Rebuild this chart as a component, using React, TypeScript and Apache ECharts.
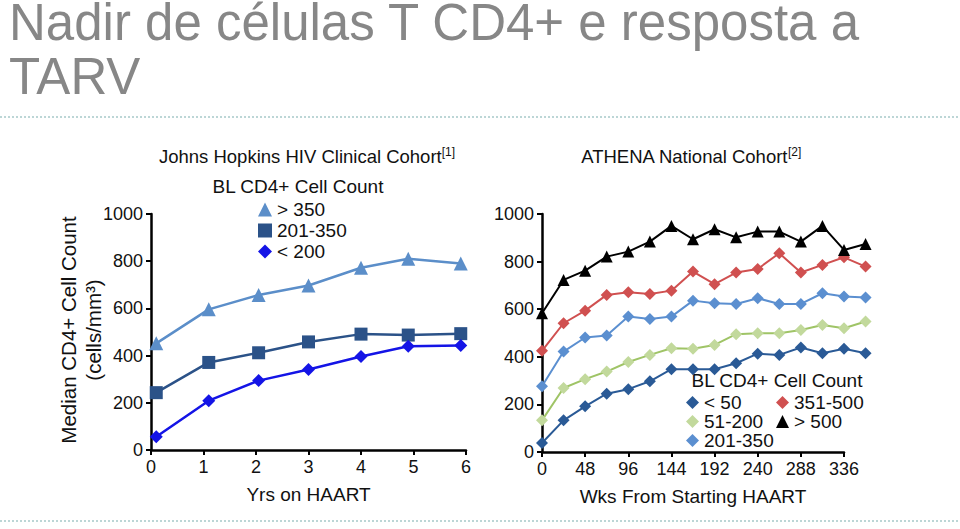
import React, { useEffect, useRef } from "react";
import * as echarts from "echarts";

const leftYears = [0.1, 1.1, 2.05, 3, 4, 4.9, 5.9];
const leftGt350 = [452, 596, 657, 697, 772, 810, 790];
const left201to350 = [243, 371, 412, 458, 491, 487, 493];
const leftLt200 = [56, 209, 294, 341, 396, 440, 443];

const rightWeeks = [0, 24, 48, 72, 96, 120, 144, 168, 192, 216, 240, 264, 288, 312, 336, 360];
const rightGt500 = [583, 723, 762, 821, 842, 884, 950, 894, 936, 902, 926, 926, 884, 950, 849, 874];
const right351to500 = [425, 541, 594, 660, 671, 664, 678, 758, 705, 754, 769, 835, 754, 786, 818, 779];
const right201to350 = [276, 422, 481, 490, 569, 559, 569, 636, 625, 622, 646, 622, 622, 667, 653, 649];
const right51to200 = [133, 269, 306, 338, 378, 408, 436, 434, 450, 495, 499, 499, 513, 534, 520, 548];
const rightLt50 = [38, 133, 192, 245, 264, 297, 348, 348, 348, 373, 413, 408, 439, 415, 434, 415];

const FONT = "Liberation Sans";

const zip = (xs: number[], ys: number[]) => xs.map((x, i) => [x, ys[i]]);

export default function App() {
  const ref = useRef<HTMLDivElement>(null);
  useEffect(() => {
    if (!ref.current) return;
    const chart = echarts.init(ref.current, undefined, { renderer: "svg" });
    const axisLine = { show: true, lineStyle: { color: "#000", width: 2.5 } };
    const axisTick = { show: true, length: 5, lineStyle: { color: "#000", width: 2 } };
    const axisLabel = { color: "#111", fontSize: 18, fontFamily: FONT, margin: 8, formatter: (v: number) => String(v) };
    const nameStyle = { color: "#111", fontSize: 19, fontFamily: FONT };
    const mkY = (gridIndex: number, show: boolean) => ({
      type: "value",
      gridIndex,
      show,
      min: 0,
      max: 1000,
      interval: 200,
      axisLine,
      axisTick,
      axisLabel,
      splitLine: { show: false },
    });
    const line = (
      name: string,
      data: number[][],
      color: string,
      symbol: string,
      size: number,
      xi: number,
      width: number,
      lineColor?: string
    ) => ({
      type: "line",
      name,
      xAxisIndex: xi,
      yAxisIndex: xi,
      data,
      symbol,
      symbolSize: size,
      lineStyle: { color: lineColor || color, width },
      itemStyle: { color },
    });
    const legendText = { color: "#111", fontSize: 19, fontFamily: FONT };
    const supRich = {
      s: { fontSize: 12, fontFamily: FONT, color: "#111", verticalAlign: "top", padding: [0, 0, 9, 0] },
    };
    const rightDataWidth = (302 * 360) / 336;
    chart.setOption({
      animation: false,
      textStyle: { fontFamily: FONT },
      grid: [
        { left: 151, width: 315, top: 214, height: 236 },
        { left: 542, width: rightDataWidth, top: 214, height: 238 },
        { left: 542, width: 302, top: 214, height: 238 },
      ],
      xAxis: [
        {
          type: "value",
          gridIndex: 0,
          min: 0,
          max: 6,
          interval: 1,
          axisLine,
          axisTick,
          axisLabel,
          splitLine: { show: false },
          name: "Yrs on HAART",
          nameLocation: "middle",
          nameGap: 35,
          nameTextStyle: nameStyle,
        },
        {
          type: "value",
          gridIndex: 1,
          show: false,
          min: 0,
          max: 360,
          splitLine: { show: false },
        },
        {
          type: "value",
          gridIndex: 2,
          min: 0,
          max: 336,
          interval: 48,
          axisLine,
          axisTick,
          axisLabel,
          splitLine: { show: false },
          name: "Wks From Starting HAART",
          nameLocation: "middle",
          nameGap: 35,
          nameTextStyle: nameStyle,
        },
      ],
      yAxis: [mkY(0, true), mkY(1, true), mkY(2, false)],
      title: [
        {
          text: "Johns Hopkins HIV Clinical Cohort{s|[1]}",
          left: 302,
          top: 141,
          textAlign: "center",
          textStyle: {
            color: "#111",
            fontSize: 18.5,
            fontWeight: "normal",
            fontFamily: FONT,
            rich: supRich,
          },
        },
        {
          text: "ATHENA National Cohort{s|[2]}",
          left: 686,
          top: 141,
          textAlign: "center",
          textStyle: {
            color: "#111",
            fontSize: 18.5,
            fontWeight: "normal",
            fontFamily: FONT,
            rich: supRich,
          },
        },
      ],
      legend: [
        {
          orient: "vertical",
          left: 253,
          top: 195,
          itemGap: 2,
          itemWidth: 14,
          itemHeight: 14,
          selectedMode: false,
          textStyle: legendText,
          data: [
            { name: "> 350", icon: "triangle", itemStyle: { color: "#5b8ec9" } },
            { name: "201-350", icon: "rect", itemStyle: { color: "#2b5288" } },
            { name: "< 200", icon: "diamond", itemStyle: { color: "#1414e6" } },
          ],
        },
        {
          orient: "vertical",
          left: 681,
          top: 388,
          itemGap: 0,
          itemWidth: 13,
          itemHeight: 13,
          selectedMode: false,
          textStyle: legendText,
          data: [
            { name: "< 50", icon: "diamond", itemStyle: { color: "#2a5a96" } },
            { name: "51-200", icon: "diamond", itemStyle: { color: "#c2d99c" } },
            { name: "201-350", icon: "diamond", itemStyle: { color: "#5b8fd0" } },
          ],
        },
        {
          orient: "vertical",
          left: 771,
          top: 388,
          itemGap: 0,
          itemWidth: 13,
          itemHeight: 13,
          selectedMode: false,
          textStyle: legendText,
          data: [
            { name: "351-500", icon: "diamond", itemStyle: { color: "#d05050" } },
            { name: "> 500", icon: "triangle", itemStyle: { color: "#000" } },
          ],
        },
      ],
      graphic: [
        {
          type: "text",
          x: 9,
          y: 22,
          style: {
            text: "Nadir de células T CD4+ e resposta a",
            fontSize: 51,
            lineHeight: 44,
            fontFamily: FONT,
            fill: "#878787",
            verticalAlign: "middle",
          },
        },
        {
          type: "text",
          x: 9,
          y: 76,
          style: {
            text: "TARV",
            fontSize: 51,
            lineHeight: 44,
            fontFamily: FONT,
            fill: "#878787",
            verticalAlign: "middle",
          },
        },
        {
          type: "line",
          shape: { x1: 0, y1: 117, x2: 960, y2: 117 },
          style: { stroke: "#a7c9c9", lineWidth: 1.5, lineDash: [2, 2] },
        },
        {
          type: "line",
          shape: { x1: 0, y1: 521, x2: 960, y2: 521 },
          style: { stroke: "#a7c9c9", lineWidth: 1.5, lineDash: [2, 2] },
        },
        {
          type: "text",
          x: 68,
          y: 330,
          rotation: Math.PI / 2,
          style: {
            text: "Median CD4+ Cell Count",
            fontSize: 20.5,
            fontFamily: FONT,
            fill: "#111",
            align: "center",
            verticalAlign: "middle",
          },
        },
        {
          type: "text",
          x: 93,
          y: 330,
          rotation: Math.PI / 2,
          style: {
            text: "(cells/mm³)",
            fontSize: 20.5,
            fontFamily: FONT,
            fill: "#111",
            align: "center",
            verticalAlign: "middle",
          },
        },
        {
          type: "text",
          x: 298,
          y: 186,
          style: {
            text: "BL CD4+ Cell Count",
            fontSize: 19,
            fontFamily: FONT,
            fill: "#111",
            align: "center",
            verticalAlign: "middle",
          },
        },
        {
          type: "text",
          x: 777,
          y: 380,
          style: {
            text: "BL CD4+ Cell Count",
            fontSize: 19,
            fontFamily: FONT,
            fill: "#111",
            align: "center",
            verticalAlign: "middle",
          },
        },
      ],
      series: [
        line("> 350", zip(leftYears, leftGt350), "#5b8ec9", "triangle", 14, 0, 2.5),
        line("201-350", zip(leftYears, left201to350), "#2b5288", "rect", 13, 0, 2.5),
        line("< 200", zip(leftYears, leftLt200), "#1414e6", "diamond", 13, 0, 2.5),
        line("< 50", zip(rightWeeks, rightLt50), "#2a5a96", "diamond", 12, 1, 2),
        line("51-200", zip(rightWeeks, right51to200), "#c2d99c", "diamond", 12, 1, 2, "#9fc466"),
        line("201-350", zip(rightWeeks, right201to350), "#5b8fd0", "diamond", 12, 1, 2),
        line("351-500", zip(rightWeeks, right351to500), "#d05050", "diamond", 12, 1, 2),
        line("> 500", zip(rightWeeks, rightGt500), "#000", "triangle", 12, 1, 2),
      ],
    });
    return () => chart.dispose();
  }, []);
  return <div ref={ref} style={{ position: "absolute", left: 0, top: 0, width: 960, height: 529 }} />;
}
